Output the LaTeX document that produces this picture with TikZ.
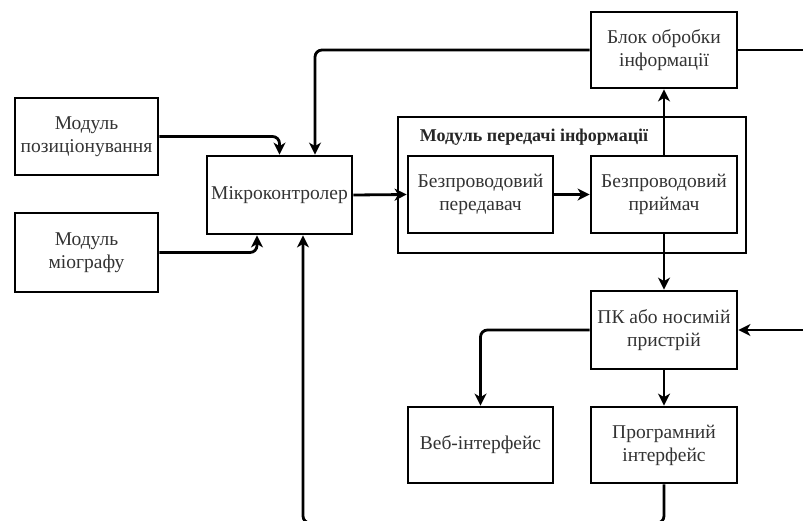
\documentclass[tikz,border=0pt]{standalone}
\usepackage{fontspec}
\setmainfont{Liberation Serif}
\usetikzlibrary{arrows.meta,calc}
\begin{document}
\begin{tikzpicture}[x=1pt,y=-1pt,
  box/.style={draw=black, line width=2.8pt, align=center, inner sep=0pt,
    text=black!80, font=\fontsize{19.5}{23}\selectfont},
  conn/.style={draw=black, line width=2.8pt, rounded corners=7pt,
    -{Stealth[length=12pt,width=12pt,inset=3.5pt]}},
  plain/.style={draw=black, line width=2.8pt, rounded corners=7pt}]
\useasboundingbox (0,0) rectangle (803,520);
\node[box, minimum width=143pt, minimum height=77pt] (poz) at (86.5,136.5) {Модуль\\позиціонування};
\node[box, minimum width=143pt, minimum height=79pt] (mio) at (86.5,252.5) {Модуль\\міографу};
\node[box, minimum width=145pt, minimum height=78pt] (mk) at (279.5,195) {Мікроконтролер};
\node[box, minimum width=146pt, minimum height=76pt] (blok) at (664,50) {Блок обробки\\інформації};
\node[box, minimum width=348pt, minimum height=136pt] (outer) at (572,185) {};
\node[text=black!85, font=\fontsize{18}{22}\selectfont\bfseries, inner sep=0pt] (title) at (534,137) {Модуль передачі інформації};
\node[box, minimum width=145pt, minimum height=77pt] (tx) at (480.5,194.5) {Безпроводовий\\передавач};
\node[box, minimum width=146pt, minimum height=77pt] (rx) at (664,194.5) {Безпроводовий\\приймач};
\node[box, minimum width=146pt, minimum height=78pt] (pk) at (664,330) {ПК або носимій\\пристрій};
\node[box, minimum width=145pt, minimum height=76pt] (web) at (480.5,445) {Веб-інтерфейс};
\node[box, minimum width=146pt, minimum height=76pt] (prog) at (664,445) {Програмний\\інтерфейс};
\coordinate (rtop) at (806,50);
\coordinate (rpk) at (806,330);
\coordinate (bot) at (664,523);
% connectors
\draw[conn] (poz.east) -| (mk.north);
\draw[conn] (mio.east) -| ([xshift=-22.5pt]mk.south);
\draw[conn] (blok.west) -| ([xshift=35.5pt]mk.north);
\draw[plain] (blok.east) -- (rtop);
\draw[conn] (mk.east) -- (tx.west);
\draw[conn] (tx.east) -- (rx.west);
\draw[conn] (rx.north) -- (blok.south);
\draw[conn] (rx.south) -- (pk.north);
\draw[conn] (pk.west) -| (web.north);
\draw[conn] (pk.south) -- (prog.north);
\draw[conn] (rpk) -- (pk.east);
\draw[conn] (prog.south) -- (bot) -| ([xshift=23.5pt]mk.south);
\end{tikzpicture}
\end{document}
